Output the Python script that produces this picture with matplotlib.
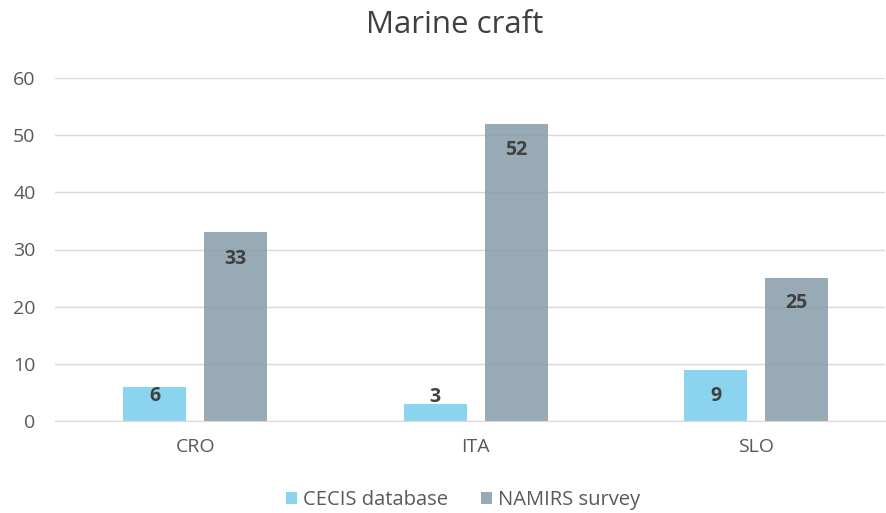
import numpy as np
from matplotlib import pyplot as plt

categories = ['CRO', 'ITA', 'SLO']
cecis = [6, 3, 9]
namirs = [33, 52, 25]
series_names = ['CECIS database', 'NAMIRS survey']

# label offsets (points) from the bar top
cecis_offsets = [-7, 5, -19]
namirs_offsets = [-19, -19, -18]

plt.rcParams['font.family'] = ['Open Sans', 'DejaVu Sans']

fig = plt.figure(figsize=(8.87, 5.13), dpi=100)
ax = fig.add_axes([55 / 887, 92 / 513, 830 / 887, 343 / 513])

x = np.arange(len(categories))
w = 0.225
off = 0.144
b1 = ax.bar(x - off, cecis, w, color='#8bd4f0', zorder=1, label=series_names[0])
b2 = ax.bar(x + off, namirs, w, color='#8a9fab', alpha=0.88, zorder=3, label=series_names[1])

for bars, vals, offs in [(b1, cecis, cecis_offsets), (b2, namirs, namirs_offsets)]:
    for r, v, o in zip(bars, vals, offs):
        ax.annotate(str(v), (r.get_x() + r.get_width() / 2, r.get_height()),
                    xytext=(0, o), textcoords='offset points', ha='center', va='center',
                    fontsize=14, fontweight='bold', color='#404040', zorder=5)

ax.set_xlim(-0.5, -0.5 + 830 / 280.5)
ax.set_ylim(0, 60)
ax.set_yticks(range(0, 61, 10))
ax.set_xticks(x)
ax.set_xticklabels(categories)
ax.grid(axis='y', color='#d9d9d9', linewidth=1, zorder=2)
ax.set_axisbelow(False)
for s in ['top', 'right', 'left']:
    ax.spines[s].set_visible(False)
ax.spines['bottom'].set_color('#d9d9d9')
ax.spines['bottom'].set_zorder(4)
ax.tick_params(axis='both', length=0, colors='#595959', labelsize=14)
ax.tick_params(axis='y', pad=14)
ax.tick_params(axis='x', pad=12)

fig.text(455 / 887, 1 - 25 / 513, 'Marine craft', ha='center', va='center',
         fontsize=22.5, color='#404040')

leg = fig.legend(handles=[b1, b2], loc='center', bbox_to_anchor=(463 / 887, 1 - 500 / 513),
                 ncol=2, frameon=False, fontsize=14.5, handlelength=0.55, handleheight=0.55,
                 handletextpad=0.3, columnspacing=1.6)
for t in leg.get_texts():
    t.set_color('#595959')

fig.savefig('out.png', dpi=100)
